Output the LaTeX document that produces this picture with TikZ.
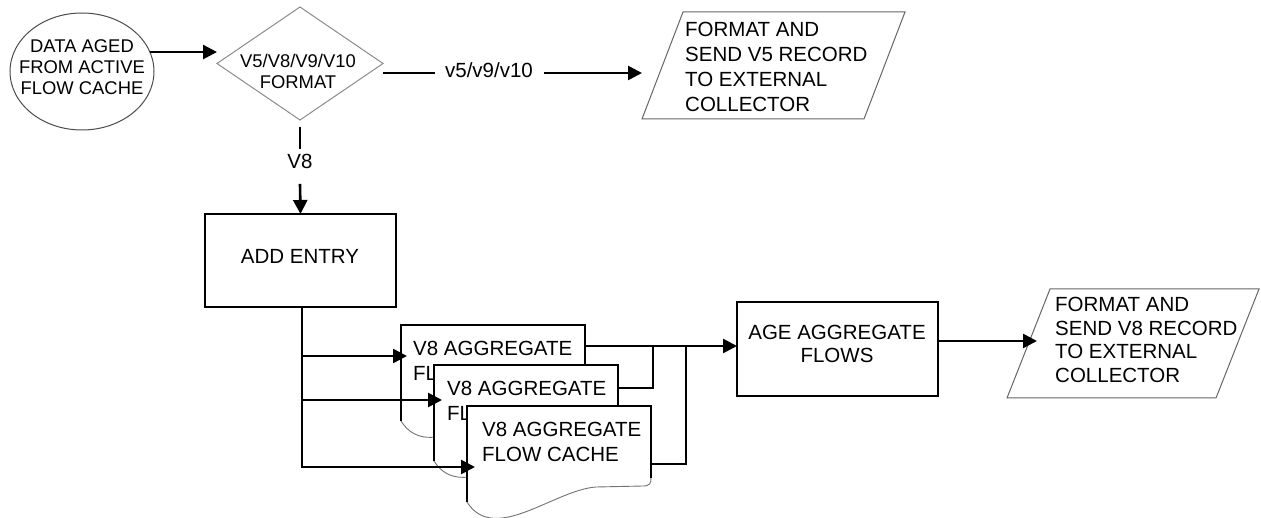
\documentclass[tikz,border=0pt]{standalone}
\usepackage{fontspec}
\setmainfont{Liberation Sans}
\usetikzlibrary{arrows.meta,shapes.geometric}
\begin{document}
\begin{tikzpicture}[x=1pt,y=-1pt,
  conn/.style={line width=2.6pt, black},
  arr/.style={conn,-{Triangle[length=14pt,width=14pt]}},
  box/.style={draw=black, line width=1.3pt, fill=white, inner sep=0pt, outer sep=0pt},
  frame/.style={inner sep=0pt, outer sep=0pt},
  pg/.style={draw=black!60, line width=1pt, fill=white},
  txt/.style={font=\fontsize{20.5}{25}\selectfont, inner sep=0pt},
  stxt/.style={font=\fontsize{18.4}{21}\selectfont, inner sep=0pt, align=center},
  cachepic/.pic={
    \fill[white] (0,0) -- (184,0) -- (184,72) .. controls (184,77) and (183,80) .. (176,80) -- (129,81) .. controls (87,84) and (27,139) .. (0,96) -- cycle;
    \draw[black, line width=1.1pt] (0,96) -- (0,0) -- (184,0) -- (184,72);
    \draw[black!55, line width=0.9pt] (184,72) .. controls (184,77) and (183,80) .. (176,80) -- (129,81) .. controls (87,84) and (27,139) .. (0,96);
  },
]
\useasboundingbox[fill=white] (0,0) rectangle (1261,518);

% start ellipse
\node[draw=black!70, line width=1pt, ellipse, minimum width=144pt, minimum height=117pt, frame] (data) at (82,71.5) {};
\node[stxt] (datatxt) at (82,67) {DATA AGED\\FROM ACTIVE\\FLOW CACHE};

% decision diamond
\node[diamond, draw=black!45, line width=1pt, minimum width=166pt, minimum height=113pt, frame] (fmt) at (300,63.5) {};
\node[stxt] (fmttxt) at (298,71.4) {V5/V8/V9/V10\\FORMAT};

% output parallelogram 1
\node[frame, minimum width=263pt, minimum height=107pt] (out1) at (773.5,65.5) {};
\draw[pg] ([xshift=41pt]out1.north west) -- (out1.north east) -- ([xshift=-41pt]out1.south east) -- (out1.south west) -- cycle;
\node[txt, align=left, anchor=west] (out1t) at (685,67) {FORMAT AND\\SEND V5 RECORD\\TO EXTERNAL\\COLLECTOR};

% add entry
\node[box, minimum width=191pt, minimum height=93pt] (add) at (300.5,260.5) {};
\node[txt] (addt) at (300,256.5) {ADD ENTRY};

% caches
\node[frame, anchor=north west, minimum width=184pt, minimum height=96pt] (c1) at (401,325) {};
\pic at (c1.north west) {cachepic};
\node[txt, align=left, anchor=west] (c1t) at ([xshift=12pt,yshift=-36pt]c1.north west) {V8 AGGREGATE\\FLOW CACHE};

\node[frame, anchor=north west, minimum width=184pt, minimum height=96pt] (c2) at (434,365) {};
\pic at (c2.north west) {cachepic};
\node[txt, align=left, anchor=west] (c2t) at ([xshift=13pt,yshift=-36pt]c2.north west) {V8 AGGREGATE\\FLOW CACHE};

\node[frame, anchor=north west, minimum width=184pt, minimum height=96pt] (c3) at (467,406) {};
\pic at (c3.north west) {cachepic};
\node[txt, align=left, anchor=west] (c3t) at ([xshift=15pt,yshift=-36pt]c3.north west) {V8 AGGREGATE\\FLOW CACHE};

% age aggregate flows
\node[box, minimum width=201pt, minimum height=94pt] (age) at (837.5,349) {};
\node[txt, align=center, font=\fontsize{20.5}{23}\selectfont] (aget) at (837,344) {AGE AGGREGATE\\FLOWS};

% output parallelogram 2
\node[frame, minimum width=252pt, minimum height=109pt] (out2) at (1133,343.5) {};
\draw[pg] ([xshift=43pt]out2.north west) -- (out2.north east) -- ([xshift=-43pt]out2.south east) -- (out2.south west) -- cycle;
\node[txt, align=left, anchor=west, font=\fontsize{20.5}{23.7}\selectfont] (out2t) at (1055,340) {FORMAT AND\\SEND V8 RECORD\\TO EXTERNAL\\COLLECTOR};

% labels on connectors
\node[txt] (v5lbl) at (489,70) {v5/v9/v10};
\node[txt] (v8lbl) at (300,161) {V8};

% helper coordinates
\coordinate (yv) at (0,73);
\coordinate (y1) at (0,356);
\coordinate (y2) at (0,400);
\coordinate (y3) at (0,467);
\coordinate (ym) at (0,346);
\coordinate (yc2) at (0,388);
\coordinate (yc3) at (0,464);
\coordinate (yo) at (0,341);
\coordinate (j2) at (653,346);
\coordinate (j3) at (686,346);

% connectors
\draw[arr] (data.16) -- (data.16 -| fmt.west);
\draw[conn] (fmt.east |- yv) -- ([xshift=-10pt]v5lbl.west |- yv);
\draw[arr] ([xshift=11pt]v5lbl.east |- yv) -- (out1.west |- yv);
\draw[conn, shorten <=7pt] (fmt.south) -- ([yshift=4.5pt]v8lbl.north);
\draw[arr] ([yshift=-15.5pt]v8lbl.south) -- (add.north);

\draw[arr] ([xshift=1.5pt]add.south) |- ([xshift=8pt]c3.west |- y3);
\draw[arr] ([xshift=1.5pt]add.south |- y1) -- ([xshift=6pt]c1.west |- y1);
\draw[arr] ([xshift=1.5pt]add.south |- y2) -- ([xshift=8pt]c2.west |- y2);

\draw[arr] (c1.east |- ym) -- (age.west |- ym);
\draw[conn] (c2.east |- yc2) -| (j2);
\draw[conn] (c3.east |- yc3) -| (j3);

\draw[arr] (age.east |- yo) -- ([xshift=30pt]out2.west |- yo);
\end{tikzpicture}
\end{document}
